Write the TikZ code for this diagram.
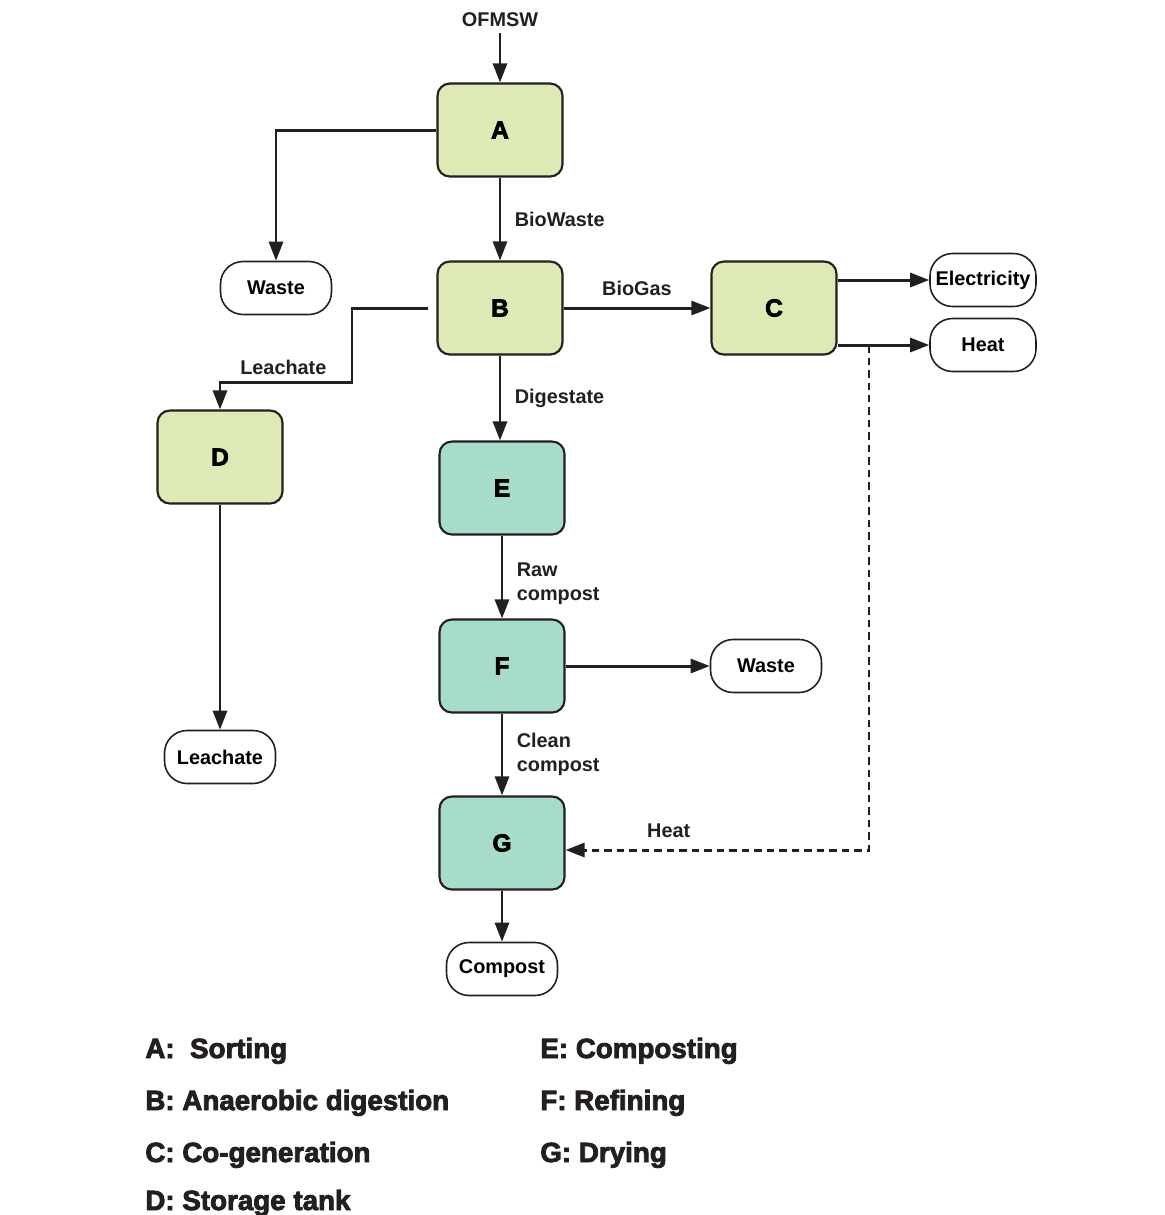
\documentclass[tikz,border=0pt]{standalone}
\usepackage{fontspec}
\setmainfont{Liberation Sans}
\newfontfamily\heavyfont[FakeBold=3]{Liberation Sans Bold}
\usetikzlibrary{positioning,arrows.meta,calc}
\definecolor{sortcolor}{RGB}{221,234,181}
\definecolor{compcolor}{RGB}{167,220,203}
\definecolor{inkcolor}{RGB}{35,31,32}

\begin{document}
\begin{tikzpicture}[x=0.02cm, y=-0.02cm,
  box/.style={draw=inkcolor, rounded corners=7pt, minimum width=2.5cm, minimum height=1.86cm, line width=1.2pt, font=\heavyfont\fontsize{14}{16}\selectfont},
  outbox/.style={draw=inkcolor, rounded corners=0.45cm, minimum width=2.22cm, minimum height=1.06cm, line width=0.9pt, inner sep=1pt, font=\bfseries\fontsize{11.3}{13}\selectfont},
  arr/.style={-{Triangle[length=3.8mm, width=2.8mm]}, line width=1.7pt, draw=inkcolor},
  dasharr/.style={arr, dash pattern=on 1.5mm off 1mm},
  lbl/.style={font=\bfseries\fontsize{11.3}{13.5}\selectfont, text=inkcolor, align=left},
  key/.style={anchor=base west, inner sep=0pt, font=\heavyfont\fontsize{15.8}{18}\selectfont, text=inkcolor},
]
\useasboundingbox (0,0) rectangle (1165,1215);

% process steps
\node[lbl] (ofmsw) at (500,20) {OFMSW};
\node[box, fill=sortcolor] (sorting) at (500,130) {A};
\node[box, fill=sortcolor] (digest) at (500,308) {B};
\node[box, fill=sortcolor] (cogen) at (774,308) {C};
\node[box, fill=sortcolor] (tank) at (220,457) {D};
\node[box, fill=compcolor] (compo) at (502,488) {E};
\node[box, fill=compcolor] (refine) at (502,666) {F};
\node[box, fill=compcolor] (dry) at (502,843) {G};

% outputs
\node[outbox] (wasteA) at (276,288) {Waste};
\node[outbox, minimum width=2.12cm] (elec) at (983,280) {Electricity};
\node[outbox, minimum width=2.12cm] (heatout) at (983,345) {Heat};
\node[outbox] (wasteF) at (766,666) {Waste};
\node[outbox] (leach) at (220,757) {Leachate};
\node[outbox] (compost) at (502,969) {Compost};

\coordinate (bend) at (352,382);
\coordinate (tap) at (869,345);

% flows
\draw[arr] (ofmsw) -- (sorting);
\draw[arr] (sorting.west) -| (wasteA.north);
\draw[arr] (sorting) -- node[lbl, right=1.5mm] {BioWaste} (digest);
\draw[arr] (digest) -- node[lbl, above=1mm] {BioGas} (cogen);
\draw[arr, shorten <=1.6mm] (digest.west) -| (bend) -| node[pos=0.26, lbl, above] {Leachate} (tank.north);
\draw[arr] (digest.south) -- node[lbl, right=1.5mm] {Digestate} (digest.south |- compo.north);
\draw[arr] (compo) -- node[pos=0.58, lbl, right=1.5mm] {Raw\\compost} (refine);
\draw[arr] (refine) -- (wasteF);
\draw[arr] (refine) -- node[lbl, right=1.5mm] {Clean\\compost} (dry);
\draw[arr] (dry) -- (compost);
\draw[arr] (tank) -- (leach);
\draw[arr] (cogen.east |- elec) -- (elec);
\draw[arr] (cogen.east |- heatout) -- (heatout);
\draw[dasharr] (tap) |- node[pos=0.83, lbl, above=1mm] {Heat} ([yshift=-0.14cm]dry.east);

% key
\node[key] (keyA) at (145,1058) {A:~ Sorting};
\node[key] (keyB) at (145,1110) {B: Anaerobic digestion};
\node[key] (keyC) at (145,1162) {C: Co-generation};
\node[key] (keyD) at (145,1210) {D: Storage tank};
\node[key] (keyE) at (540,1058) {E: Composting};
\node[key] (keyF) at (540,1110) {F: Refining};
\node[key] (keyG) at (540,1162) {G: Drying};
\end{tikzpicture}
\end{document}
